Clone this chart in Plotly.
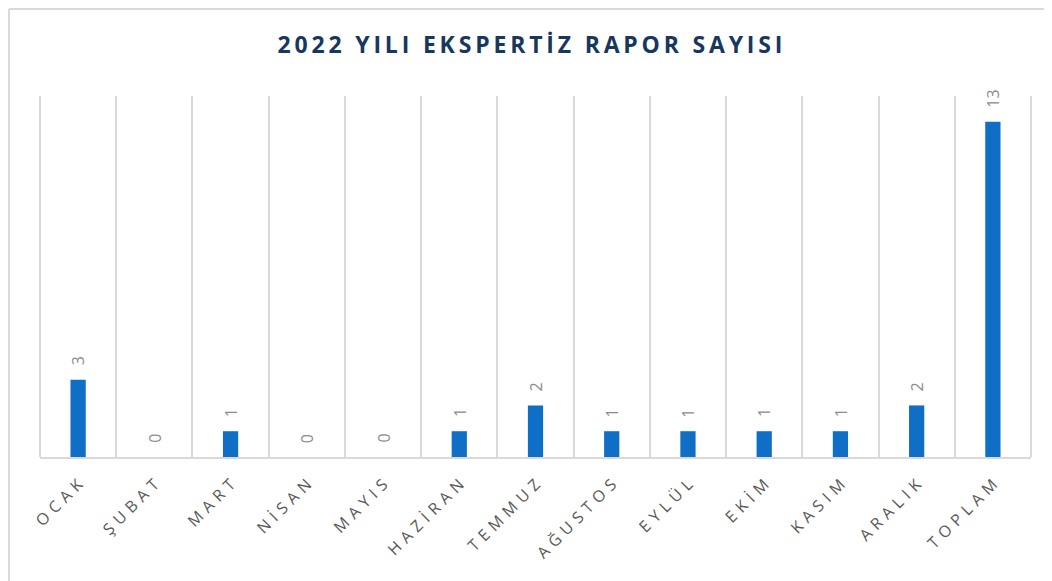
import plotly.graph_objects as go

# 2022 expert report counts per month
months = ["OCAK", "ŞUBAT", "MART", "NİSAN", "MAYIS", "HAZİRAN", "TEMMUZ",
          "AĞUSTOS", "EYLÜL", "EKİM", "KASIM", "ARALIK", "TOPLAM"]
reports = [3, 0, 1, 0, 0, 1, 2, 1, 1, 1, 1, 2, 13]
title_text = "2022 YILI EKSPERTİZ RAPOR SAYISI"


def spaced(s, gap):
    # mimic the wide letter spacing of the original chart
    return gap.join(s)


W, H = 1044, 573  # page body has an 8px margin

fig = go.Figure(
    go.Bar(
        x=months,
        y=reports,
        marker=dict(color="#0F6FC6", line=dict(width=0)),
        width=0.2,
        hoverinfo="x+y",
    )
)

for m, v in zip(months, reports):
    fig.add_annotation(
        x=m, y=v, text=str(v), textangle=-90, showarrow=False,
        yanchor="bottom", yshift=12,
        font=dict(family="Open Sans", size=16, color="#8C8C8C"),
    )

fig.update_layout(
    width=W,
    height=H,
    paper_bgcolor="white",
    plot_bgcolor="white",
    margin=dict(l=32, r=21, t=88, b=124),
    showlegend=False,
    title=dict(
        text=f"<b>{spaced(title_text, chr(0x2009))}</b>",
        x=0.5,
        xanchor="center",
        y=1 - 37 / H,
        yanchor="middle",
        font=dict(family="Open Sans", size=23, color="#17375E"),
    ),
    xaxis=dict(
        type="category",
        tickson="boundaries",
        tickmode="array",
        tickvals=months,
        ticktext=[spaced(m, chr(0x2004)) for m in months],
        showgrid=True,
        gridcolor="#D9D9D9",
        gridwidth=2,
        showline=True,
        linecolor="#D9D9D9",
        linewidth=2,
        ticks="",
        tickangle=-45,
        ticklabelstandoff=10,
        tickfont=dict(family="Open Sans", size=16, color="#595959"),
    ),
    yaxis=dict(
        range=[0, 14],
        showgrid=False,
        zeroline=False,
        showticklabels=False,
        ticks="",
    ),
    shapes=[
        dict(type="line", xref="paper", yref="paper", x0=0, x1=0, y0=0, y1=1,
             line=dict(color="#D9D9D9", width=2)),
        dict(type="line", xref="paper", yref="paper", x0=1, x1=1, y0=0, y1=1,
             line=dict(color="#D9D9D9", width=2)),
        # light frame around the chart
        dict(type="line", xref="paper", yref="paper",
             x0=-31 / 991, x1=1.05, y0=1 + 87 / 361, y1=1 + 87 / 361,
             line=dict(color="#D9D9D9", width=2)),
        dict(type="line", xref="paper", yref="paper",
             x0=-31 / 991, x1=-31 / 991, y0=1 + 87 / 361, y1=-0.4,
             line=dict(color="#D9D9D9", width=2)),
    ],
)

fig.write_html("out.html")
